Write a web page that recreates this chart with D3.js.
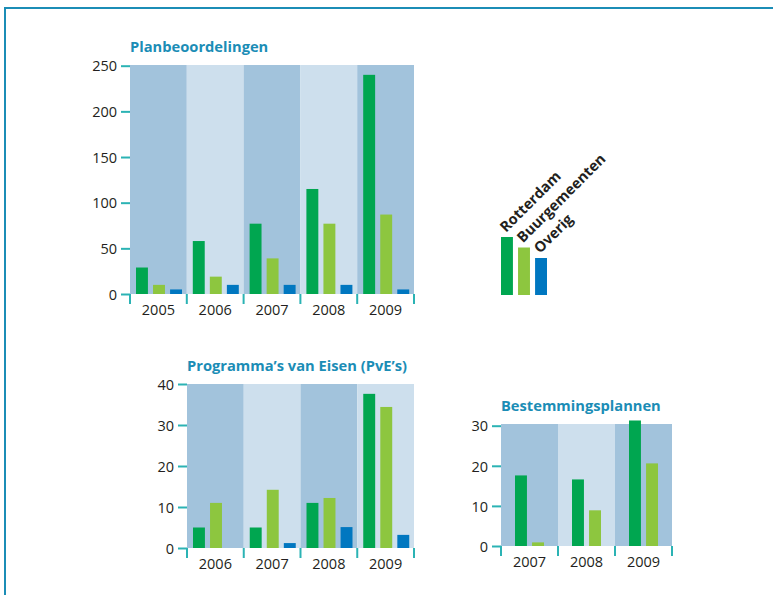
<!DOCTYPE html>
<html>
<head>
<meta charset="utf-8">
<script src="https://cdn.jsdelivr.net/npm/d3@7"></script>
<style>
  body { margin: 0; background: #fff; }
  text { font-family: "Open Sans", "Noto Sans", sans-serif; fill: #231f20; }
  .title { font-weight: 700; fill: #1b8db6; font-size: 14.7px; }
  .tick text { font-size: 14.5px; }
  .legend text { font-weight: 700; font-size: 14.6px; }
</style>
</head>
<body>
<div id="chart"></div>
<script>
// series
var series = ["Rotterdam", "Buurgemeenten", "Overig"];
var seriesColors = ["#00a650", "#8dc63f", "#0077c0"];

// Planbeoordelingen
var planYears = ["2005", "2006", "2007", "2008", "2009"];
var planRotterdam = [29, 58, 77, 115, 240];
var planBuur = [10, 19, 39, 77, 87];
var planOverig = [5, 10, 10, 10, 5];
var planTicks = [0, 50, 100, 150, 200, 250];

// Programma's van Eisen
var pveYears = ["2006", "2007", "2008", "2009"];
var pveRotterdam = [5, 5, 11, 37.6];
var pveBuur = [11, 14.2, 12.2, 34.4];
var pveOverig = [0, 1.2, 5.1, 3.2];
var pveTicks = [0, 10, 20, 30, 40];

// Bestemmingsplannen
var bpYears = ["2007", "2008", "2009"];
var bpRotterdam = [17.6, 16.6, 31.3];
var bpBuur = [0.9, 8.9, 20.6];
var bpTicks = [0, 10, 20, 30];

var W = 773, H = 595;
var bandDark = "#a2c3dc", bandLight = "#cddfed", tickColor = "#2bb3b4";

var svg = d3.select("#chart").append("svg")
    .attr("width", W)
    .attr("height", H);

// frame
svg.append("path")
    .attr("d", "M5," + H + "V8H" + W)
    .attr("fill", "none")
    .attr("stroke", "#1b8db6")
    .attr("stroke-width", 2);

function drawChart(cfg)
{
    var g = svg.append("g");

    var x = d3.scaleBand()
        .domain(cfg.years)
        .range([cfg.left, cfg.right]);

    var y = d3.scaleLinear()
        .domain([0, cfg.max])
        .range([cfg.bottom, cfg.yMax]);

    var keys = series.slice(0, cfg.values.length);
    var xInner = d3.scaleBand()
        .domain(keys)
        .range(cfg.inner)
        .paddingInner(0.3);

    // background bands
    g.selectAll("rect.band")
        .data(cfg.years).enter()
        .append("rect")
            .attr("class", "band")
            .attr("x", function(d) { return x(d); })
            .attr("y", cfg.top)
            .attr("width", x.bandwidth())
            .attr("height", cfg.bottom - cfg.top)
            .attr("fill", function(d, i) { return i % 2 ? bandLight : bandDark; });

    // bars
    cfg.values.forEach(function(vals, s) {
        g.selectAll("rect.s" + s)
            .data(vals).enter()
            .append("rect")
                .attr("class", "s" + s)
                .attr("x", function(d, i) { return x(cfg.years[i]) + xInner(keys[s]); })
                .attr("y", function(d) { return y(d); })
                .attr("width", xInner.bandwidth())
                .attr("height", function(d) { return cfg.bottom - y(d); })
                .attr("fill", seriesColors[s]);
    });

    // y axis
    var yAxis = g.append("g")
        .attr("transform", "translate(" + cfg.left + ",0)")
        .call(d3.axisLeft(y).tickValues(cfg.ticks).tickSize(9).tickPadding(4));
    yAxis.select(".domain").remove();
    yAxis.selectAll(".tick line").attr("stroke", tickColor).attr("stroke-width", 2);
    yAxis.selectAll(".tick text").attr("dy", "0.36em");

    // x axis: ticks on band edges, labels centered
    var edges = cfg.years.map(function(d) { return x(d); }).concat([cfg.right]);
    g.selectAll("line.xt")
        .data(edges).enter()
        .append("line")
            .attr("class", "xt")
            .attr("x1", function(d) { return d; })
            .attr("x2", function(d) { return d; })
            .attr("y1", cfg.bottom)
            .attr("y2", cfg.bottom + 10)
            .attr("stroke", tickColor)
            .attr("stroke-width", 2);

    g.selectAll("text.xl")
        .data(cfg.years).enter()
        .append("text")
            .attr("class", "xl")
            .attr("x", function(d) { return x(d) + x.bandwidth() / 2; })
            .attr("y", cfg.bottom + 21)
            .attr("text-anchor", "middle")
            .style("font-size", "14.5px")
            .text(function(d) { return d; });

    g.append("text")
        .attr("class", "title")
        .attr("x", cfg.left)
        .attr("y", cfg.top - 13)
        .text(cfg.title);
}

drawChart({
    title: "Planbeoordelingen",
    years: planYears,
    values: [planRotterdam, planBuur, planOverig],
    ticks: planTicks,
    max: 250,
    left: 130, right: 414, top: 65, yMax: 65.7, bottom: 294,
    inner: [6, 52]
});

drawChart({
    title: "Programma\u2019s van Eisen (PvE\u2019s)",
    years: pveYears,
    values: [pveRotterdam, pveBuur, pveOverig],
    ticks: pveTicks,
    max: 40,
    left: 187, right: 414, top: 384, yMax: 384, bottom: 548,
    inner: [6, 52]
});

drawChart({
    title: "Bestemmingsplannen",
    years: bpYears,
    values: [bpRotterdam, bpBuur],
    ticks: bpTicks,
    max: 30,
    left: 501, right: 672, top: 424, yMax: 425.7, bottom: 546,
    inner: [14, 43]
});

// legend
var legend = svg.append("g")
    .attr("class", "legend")
    .attr("transform", "translate(501,295)");

var lx = d3.scaleBand().domain(series).range([0, 46]).paddingInner(0.3);

var item = legend.selectAll("g")
    .data(series).enter()
    .append("g")
        .attr("transform", function(d) { return "translate(" + lx(d) + ",0)"; });

item.append("rect")
    .attr("y", function(d, i) { return -58 + i * 10.5; })
    .attr("width", lx.bandwidth())
    .attr("height", function(d, i) { return 58 - i * 10.5; })
    .attr("fill", function(d, i) { return seriesColors[i]; });

item.append("text")
    .attr("transform", function(d, i) { return "translate(5," + (-62 + i * 10.5) + ") rotate(-45)"; })
    .text(function(d) { return d; });
</script>
</body>
</html>
